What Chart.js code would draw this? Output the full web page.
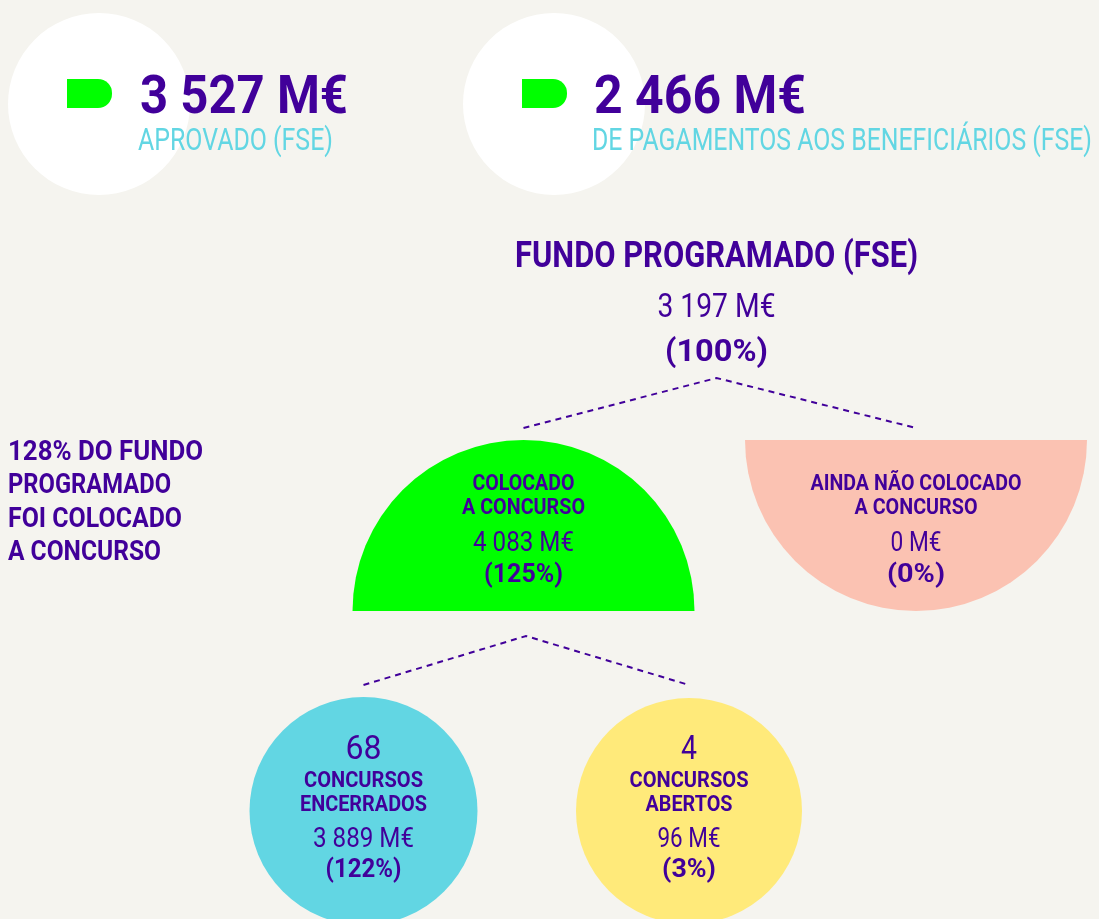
<!DOCTYPE html>
<html>
<head>
<meta charset="utf-8">
<script src="https://cdn.jsdelivr.net/npm/chart.js@4.4.1/dist/chart.umd.min.js"></script>
<style>
  html, body { margin: 0; padding: 0; background: #f5f4ef; overflow: hidden; }
  #wrap { width: 1099px; height: 919px; }
</style>
</head>
<body>
<div id="wrap"><canvas id="grafico" width="1099" height="919"></canvas></div>
<script>
// dados
const headlineValues = [3527, 2466];
const headlineLabels = ['APROVADO (FSE)', 'DE PAGAMENTOS AOS BENEFICIÁRIOS (FSE)'];
const nodeTitles = [
  ['FUNDO PROGRAMADO (FSE)'],
  ['COLOCADO', 'A CONCURSO'],
  ['AINDA NÃO COLOCADO', 'A CONCURSO'],
  ['CONCURSOS', 'ENCERRADOS'],
  ['CONCURSOS', 'ABERTOS']
];
const nodeAmounts = [3197, 4083, 0, 3889, 96];
const nodePercents = [100, 125, 0, 122, 3];
const contestCounts = [null, null, null, 68, 4];
const noteLines = ['128% DO FUNDO', 'PROGRAMADO', 'FOI COLOCADO', 'A CONCURSO'];
const parentOf = [null, 0, 0, 1, 1];

// layout
const roxo = '#41009a';
const ciano = '#62d6e3';
const fonte = 'Roboto';

const headLayout = [
  { cx: 99, cy: 104, r: 91, icon: 67, x: 140, wVal: 208, wLab: 195 },
  { cx: 554, cy: 104, r: 91, icon: 522, x: 594, wVal: 212, wLab: 500 }
];

const nos = [
  { x: 716.5, forma: 'nenhuma', apex: 378,
    count: null, titles: [[267, 36, 403]], amount: [317, 33, 118], pct: [361, 32, 103] },
  { x: 523.5, y: 611, r: 171, forma: 'cima', cor: '#00ff00', topo: 440, apex: 636,
    count: null, titles: [[490, 22, 102], [514, 22, 123]], amount: [551, 27, 101], pct: [582, 25, 79] },
  { x: 916, y: 440, r: 171, forma: 'baixo', cor: '#fbc2b2', topo: 440,
    count: null, titles: [[490, 22, 211], [514, 22, 123]], amount: [551, 27, 51], pct: [582, 25, 58] },
  { x: 363.5, y: 811, r: 114, forma: 'circulo', cor: '#62d6e3', topo: 697,
    count: [759, 34, 36], titles: [[787, 22, 119], [811, 22, 127]], amount: [847, 27, 101], pct: [877, 25, 76] },
  { x: 689, y: 811, r: 113, forma: 'circulo', cor: '#ffea7a', topo: 697,
    count: [759, 34, 16], titles: [[787, 22, 119], [811, 22, 87]], amount: [847, 27, 63], pct: [877, 25, 54] }
];

const notaLayout = { x: 8, size: 27, linhas: [[460, 195], [493, 163], [527, 174], [560, 153]] };

function fmt(v) {
  return String(v).replace(/\B(?=(\d{3})+(?!\d))/g, ' ') + ' M€';
}

function texto(ctx, s, x, y, size, weight, cor, largura, alinh) {
  ctx.save();
  ctx.font = weight + ' ' + size + 'px ' + fonte;
  ctx.fillStyle = cor;
  ctx.textBaseline = 'alphabetic';
  ctx.textAlign = 'left';
  const w = ctx.measureText(s).width;
  const k = largura ? largura / w : 1;
  const x0 = alinh === 'center' ? x - w * k / 2 : x;
  ctx.translate(x0, y);
  ctx.scale(k, 1);
  ctx.fillText(s, 0, 0);
  ctx.restore();
}

// bolhas (círculos) e ligações tracejadas
const bolhas = [];
const coresBolhas = [];
headLayout.forEach(h => { bolhas.push({ x: h.cx, y: h.cy, r: h.r }); coresBolhas.push('#ffffff'); });
nos.forEach(n => { if (n.forma === 'circulo') { bolhas.push({ x: n.x, y: n.y, r: n.r }); coresBolhas.push(n.cor); } });

const ligacoes = [];
[0, 1].forEach(p => {
  const filhos = nos.map((n, i) => i).filter(i => parentOf[i] === p);
  const a = filhos.map(i => ({ x: nos[i].x, y: nos[i].topo - 12 }));
  ligacoes.push({
    type: 'scatter',
    data: [a[0], { x: nos[p].x + (p === 1 ? 2.5 : 0), y: nos[p].apex }, a[1]],
    showLine: true,
    borderColor: roxo,
    borderWidth: 2,
    borderDash: [6, 5],
    pointRadius: 0,
    fill: false,
    tension: 0
  });
});

const infografico = {
  id: 'infografico',
  beforeDatasetsDraw(chart) {
    const ctx = chart.ctx;
    const sx = v => chart.scales.x.getPixelForValue(v);
    const sy = v => chart.scales.y.getPixelForValue(v);
    nos.forEach(n => {
      if (n.forma === 'cima' || n.forma === 'baixo') {
        ctx.save();
        ctx.fillStyle = n.cor;
        ctx.beginPath();
        if (n.forma === 'cima') ctx.arc(sx(n.x), sy(n.y), n.r, Math.PI, 2 * Math.PI);
        else ctx.arc(sx(n.x), sy(n.y), n.r, 0, Math.PI);
        ctx.closePath();
        ctx.fill();
        ctx.restore();
      }
    });
  },
  afterDatasetsDraw(chart) {
    const ctx = chart.ctx;
    const sx = v => chart.scales.x.getPixelForValue(v);
    const sy = v => chart.scales.y.getPixelForValue(v);
    // destaques do topo
    headLayout.forEach((h, i) => {
      ctx.save();
      ctx.fillStyle = '#00ff00';
      ctx.beginPath();
      const x0 = sx(h.icon), y0 = sy(79), w = 45, hh = 29, rr = 14;
      ctx.moveTo(x0, y0);
      ctx.lineTo(x0 + w - rr, y0);
      ctx.arcTo(x0 + w, y0, x0 + w, y0 + rr, rr);
      ctx.lineTo(x0 + w, y0 + hh - rr);
      ctx.arcTo(x0 + w, y0 + hh, x0 + w - rr, y0 + hh, rr);
      ctx.lineTo(x0, y0 + hh);
      ctx.closePath();
      ctx.fill();
      ctx.restore();
      texto(ctx, fmt(headlineValues[i]), sx(h.x), sy(113), 53, 700, roxo, h.wVal, 'left');
      texto(ctx, headlineLabels[i], sx(h.x - 2), sy(150), 31, 400, ciano, h.wLab, 'left');
    });
    // nós
    nos.forEach((n, i) => {
      if (n.count && contestCounts[i] !== null) {
        texto(ctx, String(contestCounts[i]), sx(n.x), sy(n.count[0]), n.count[1], 400, roxo, n.count[2], 'center');
      }
      nodeTitles[i].forEach((t, j) => {
        const l = n.titles[j];
        texto(ctx, t, sx(n.x), sy(l[0]), l[1], 700, roxo, l[2], 'center');
      });
      texto(ctx, fmt(nodeAmounts[i]), sx(n.x), sy(n.amount[0]), n.amount[1], 400, roxo, n.amount[2], 'center');
      texto(ctx, '(' + nodePercents[i] + '%)', sx(n.x), sy(n.pct[0]), n.pct[1], 700, roxo, n.pct[2], 'center');
    });
    // nota lateral
    noteLines.forEach((t, j) => {
      const l = notaLayout.linhas[j];
      texto(ctx, t, sx(notaLayout.x), sy(l[0]), notaLayout.size, 700, roxo, l[1], 'left');
    });
  }
};

const ctx = document.getElementById('grafico').getContext('2d');
const chart = new Chart(ctx, {
  type: 'bubble',
  data: {
    datasets: [
      ...ligacoes,
      {
        type: 'bubble',
        data: bolhas,
        backgroundColor: coresBolhas,
        borderWidth: 0,
        hoverRadius: 0,
        clip: false
      }
    ]
  },
  options: {
    responsive: false,
    animation: false,
    devicePixelRatio: 1,
    events: [],
    layout: { padding: 0, autoPadding: false },
    plugins: { legend: { display: false }, tooltip: { enabled: false } },
    scales: {
      x: { type: 'linear', min: 0, max: 1099, display: false },
      y: { type: 'linear', min: 0, max: 919, reverse: true, display: false }
    }
  },
  plugins: [infografico]
});
</script>
</body>
</html>
